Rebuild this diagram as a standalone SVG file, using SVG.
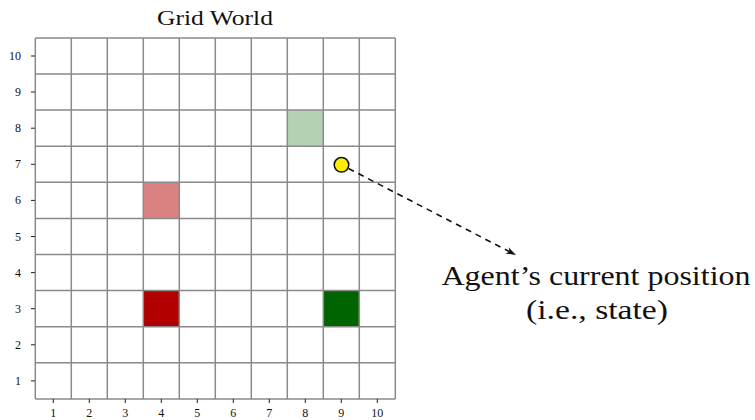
<svg xmlns="http://www.w3.org/2000/svg" width="755" height="420" viewBox="0 0 755 420">
<style>
.serif{font-family:"Liberation Serif","Times New Roman","DejaVu Serif",serif;fill:#111}
.tick{font-size:12px}
.grid line{stroke:#8a8a8a;stroke-width:1.5}
.ticks line{stroke:#222;stroke-width:1}
</style>
<defs>
<marker id="ah" markerWidth="10" markerHeight="8" refX="9" refY="4" orient="auto" markerUnits="userSpaceOnUse">
<path d="M0,0.5 L10,4 L0,7.5 L3,4 Z" fill="#111"/>
</marker>
</defs>
<rect width="755" height="420" fill="#fff"/>
<text class="serif" x="215" y="25" font-size="22" text-anchor="middle" textLength="116" lengthAdjust="spacingAndGlyphs">Grid World</text>
<g id="cells">
<rect id="goal-light" x="287.3" y="110.1" width="36" height="36.1" fill="#b3d1b3"/>
<rect id="trap-light" x="143.3" y="182.3" width="36" height="36.1" fill="#d98080"/>
<rect id="trap" x="143.3" y="290.6" width="36" height="36.1" fill="#b20000"/>
<rect id="goal" x="323.3" y="290.6" width="36" height="36.1" fill="#006400"/>
</g>
<g class="grid" id="grid">
<line x1="35.3" y1="37.9" x2="35.3" y2="398.9"/>
<line x1="71.3" y1="37.9" x2="71.3" y2="398.9"/>
<line x1="107.3" y1="37.9" x2="107.3" y2="398.9"/>
<line x1="143.3" y1="37.9" x2="143.3" y2="398.9"/>
<line x1="179.3" y1="37.9" x2="179.3" y2="398.9"/>
<line x1="215.3" y1="37.9" x2="215.3" y2="398.9"/>
<line x1="251.3" y1="37.9" x2="251.3" y2="398.9"/>
<line x1="287.3" y1="37.9" x2="287.3" y2="398.9"/>
<line x1="323.3" y1="37.9" x2="323.3" y2="398.9"/>
<line x1="359.3" y1="37.9" x2="359.3" y2="398.9"/>
<line x1="395.3" y1="37.9" x2="395.3" y2="398.9"/>
<line x1="35.3" y1="37.9" x2="395.3" y2="37.9"/>
<line x1="35.3" y1="74" x2="395.3" y2="74"/>
<line x1="35.3" y1="110.1" x2="395.3" y2="110.1"/>
<line x1="35.3" y1="146.2" x2="395.3" y2="146.2"/>
<line x1="35.3" y1="182.3" x2="395.3" y2="182.3"/>
<line x1="35.3" y1="218.4" x2="395.3" y2="218.4"/>
<line x1="35.3" y1="254.5" x2="395.3" y2="254.5"/>
<line x1="35.3" y1="290.6" x2="395.3" y2="290.6"/>
<line x1="35.3" y1="326.7" x2="395.3" y2="326.7"/>
<line x1="35.3" y1="362.8" x2="395.3" y2="362.8"/>
<line x1="35.3" y1="398.9" x2="395.3" y2="398.9"/>
</g>
<g class="ticks" id="ticks">
<line x1="31" y1="56" x2="35" y2="56"/>
<line x1="31" y1="92" x2="35" y2="92"/>
<line x1="31" y1="128.2" x2="35" y2="128.2"/>
<line x1="31" y1="164.3" x2="35" y2="164.3"/>
<line x1="31" y1="200.4" x2="35" y2="200.4"/>
<line x1="31" y1="236.5" x2="35" y2="236.5"/>
<line x1="31" y1="272.6" x2="35" y2="272.6"/>
<line x1="31" y1="308.7" x2="35" y2="308.7"/>
<line x1="31" y1="344.8" x2="35" y2="344.8"/>
<line x1="31" y1="380.9" x2="35" y2="380.9"/>
<line x1="53.3" y1="399" x2="53.3" y2="403"/>
<line x1="89.3" y1="399" x2="89.3" y2="403"/>
<line x1="125.3" y1="399" x2="125.3" y2="403"/>
<line x1="161.3" y1="399" x2="161.3" y2="403"/>
<line x1="197.3" y1="399" x2="197.3" y2="403"/>
<line x1="233.3" y1="399" x2="233.3" y2="403"/>
<line x1="269.3" y1="399" x2="269.3" y2="403"/>
<line x1="305.3" y1="399" x2="305.3" y2="403"/>
<line x1="341.3" y1="399" x2="341.3" y2="403"/>
<line x1="377.3" y1="399" x2="377.3" y2="403"/>
</g>
<g class="serif tick" id="ylabels" text-anchor="end">
<text x="21" y="60">10</text>
<text x="21" y="96">9</text>
<text x="21" y="132.2">8</text>
<text x="21" y="168.3">7</text>
<text x="21" y="204.4">6</text>
<text x="21" y="240.5">5</text>
<text x="21" y="276.6">4</text>
<text x="21" y="312.7">3</text>
<text x="21" y="348.8">2</text>
<text x="21" y="384.9">1</text>
</g>
<g class="serif tick" id="xlabels" text-anchor="middle">
<text x="53.3" y="417">1</text>
<text x="89.3" y="417">2</text>
<text x="125.3" y="417">3</text>
<text x="161.3" y="417">4</text>
<text x="197.3" y="417">5</text>
<text x="233.3" y="417">6</text>
<text x="269.3" y="417">7</text>
<text x="305.3" y="417">8</text>
<text x="341.3" y="417">9</text>
<text x="377.3" y="417">10</text>
</g>
<g id="connectors">
<line x1="348.5" y1="168.5" x2="515" y2="254.5" stroke="#111" stroke-width="1.6" stroke-dasharray="6,5" marker-end="url(#ah)"/>
</g>
<g id="agent">
<circle cx="341.5" cy="164.8" r="7.3" fill="#ffec00" stroke="#111" stroke-width="1.5"/>
</g>
<g id="label">
<text class="serif" x="596" y="285" font-size="27" text-anchor="middle" textLength="309" lengthAdjust="spacingAndGlyphs">Agent’s current position</text>
<text class="serif" x="597" y="319" font-size="27" text-anchor="middle" textLength="142" lengthAdjust="spacingAndGlyphs">(i.e., state)</text>
</g>
</svg>
